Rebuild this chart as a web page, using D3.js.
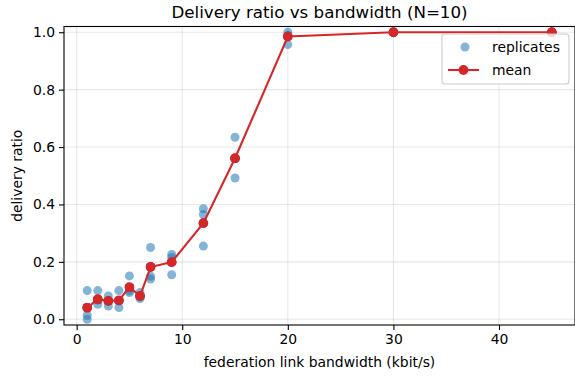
<!DOCTYPE html>
<html>
<head>
<meta charset="utf-8">
<script src="https://cdn.jsdelivr.net/npm/d3@7"></script>
<style>
  body { margin: 0; background: #fff; }
  svg text { font-family: "DejaVu Sans", sans-serif; fill: #000; }
</style>
</head>
<body>
<div id="chart"></div>
<script>
// data
var bandwidths = [1, 2, 3, 4, 5, 6, 7, 9, 12, 15, 20, 30, 45];

var replicates = [
    [0.10, 0.0, 0.014, 0.041, 0.041, 0.041, 0.041, 0.041, 0.041, 0.041],
    [0.10, 0.052, 0.068, 0.068, 0.069, 0.068, 0.069, 0.068, 0.069, 0.069],
    [0.081, 0.046, 0.064, 0.064, 0.064, 0.064, 0.064, 0.064, 0.064, 0.065],
    [0.10, 0.041, 0.065, 0.065, 0.065, 0.065, 0.065, 0.065, 0.065, 0.064],
    [0.151, 0.093, 0.099, 0.111, 0.111, 0.111, 0.111, 0.111, 0.111, 0.111],
    [0.093, 0.072, 0.081, 0.081, 0.081, 0.081, 0.081, 0.081, 0.081, 0.078],
    [0.25, 0.15, 0.14, 0.183, 0.183, 0.183, 0.183, 0.183, 0.183, 0.183],
    [0.226, 0.215, 0.155, 0.199, 0.199, 0.199, 0.199, 0.199, 0.199, 0.199],
    [0.385, 0.365, 0.255, 0.335, 0.335, 0.335, 0.335, 0.335, 0.335, 0.335],
    [0.634, 0.492, 0.56, 0.56, 0.561, 0.561, 0.56, 0.561, 0.56, 0.561],
    [1.0, 0.957, 0.987, 0.987, 0.986, 0.987, 0.986, 0.987, 0.986, 0.987],
    [1.0, 1.0, 1.0, 1.0, 1.0, 1.0, 1.0, 1.0, 1.0, 1.0],
    [1.0, 1.0, 1.0, 1.0, 1.0, 1.0, 1.0, 1.0, 1.0, 1.0]
];

var meanRatio = [0.04, 0.07, 0.064, 0.066, 0.112, 0.081, 0.182, 0.199, 0.335, 0.561, 0.985, 1.0, 1.0];

var xTicks = [0, 10, 20, 30, 40];
var yTicks = [0.0, 0.2, 0.4, 0.6, 0.8, 1.0];

const width = 575, height = 379;
const margin = {left: 64, right: 0, top: 26.5, bottom: 54};

const svg = d3.select("#chart")
    .append("svg")
    .attr("width", width)
    .attr("height", height);

var x = d3.scaleLinear()
    .domain([-1.2, 47.2])
    .range([margin.left, width - margin.right]);

var y = d3.scaleLinear()
    .domain([-0.02, 1.02])
    .range([height - margin.bottom, margin.top]);

//grid
var grid = svg.append("g").attr("class", "grid");
grid.selectAll("line.gx")
    .data(xTicks)
    .enter()
    .append("line")
    .attr("x1", d => x(d)).attr("x2", d => x(d))
    .attr("y1", y.range()[0]).attr("y2", y.range()[1])
    .style("stroke", "#b0b0b0").style("stroke-opacity", 0.3).style("stroke-width", 1.1);
grid.selectAll("line.gy")
    .data(yTicks)
    .enter()
    .append("line")
    .attr("x1", x.range()[0]).attr("x2", x.range()[1])
    .attr("y1", d => y(d)).attr("y2", d => y(d))
    .style("stroke", "#b0b0b0").style("stroke-opacity", 0.3).style("stroke-width", 1.1);

//replicate points
var points = [];
bandwidths.forEach(function (b, i) {
    replicates[i].forEach(function (v) { points.push({bw: b, v: v}); });
});

svg.append("g")
    .selectAll("circle")
    .data(points)
    .enter()
    .append("circle")
    .attr("cx", d => x(d.bw))
    .attr("cy", d => y(d.v))
    .attr("r", 4.5)
    .style("fill", "#1f77b4")
    .style("fill-opacity", 0.55);

//mean line
var meanData = bandwidths.map((b, i) => ({bw: b, v: meanRatio[i]}));

svg.append("path")
    .datum(meanData)
    .attr("d", d3.line().x(d => x(d.bw)).y(d => y(d.v)))
    .style("fill", "none")
    .style("stroke", "#d62728")
    .style("stroke-width", 2.1);

svg.append("g")
    .selectAll("circle")
    .data(meanData)
    .enter()
    .append("circle")
    .attr("cx", d => x(d.bw))
    .attr("cy", d => y(d.v))
    .attr("r", 4.9)
    .style("fill", "#d62728");

//axes
var xAxis = svg.append("g")
    .attr("transform", "translate(0," + y.range()[0] + ")")
    .call(d3.axisBottom(x).tickValues(xTicks).tickFormat(d3.format("d")).tickSize(5).tickPadding(4));
var yAxis = svg.append("g")
    .attr("transform", "translate(" + x.range()[0] + ",0)")
    .call(d3.axisLeft(y).tickValues(yTicks).tickFormat(d3.format(".1f")).tickSize(5).tickPadding(4));

[xAxis, yAxis].forEach(function (a) {
    a.select(".domain").remove();
    a.selectAll("line").style("stroke", "#000").style("stroke-width", 1.1);
    a.selectAll("text")
        .style("font-family", "DejaVu Sans")
        .style("font-size", "13.9px")
        .style("fill", "#000");
});

//frame
svg.append("rect")
    .attr("x", x.range()[0])
    .attr("y", y.range()[1])
    .attr("width", x.range()[1] - x.range()[0])
    .attr("height", y.range()[0] - y.range()[1])
    .style("fill", "none")
    .style("stroke", "#000")
    .style("stroke-width", 1.1);

//labels
svg.append("text")
    .attr("x", (x.range()[0] + x.range()[1]) / 2)
    .attr("y", 18)
    .attr("text-anchor", "middle")
    .style("font-size", "16.7px")
    .text("Delivery ratio vs bandwidth (N=10)");

svg.append("text")
    .attr("x", (x.range()[0] + x.range()[1]) / 2)
    .attr("y", 367)
    .attr("text-anchor", "middle")
    .style("font-size", "13.9px")
    .text("federation link bandwidth (kbit/s)");

svg.append("text")
    .attr("transform", "translate(22," + (y(0) + y(1)) / 2 + ") rotate(-90)")
    .attr("text-anchor", "middle")
    .style("font-size", "13.9px")
    .text("delivery ratio");

//legend
var legend = svg.append("g").attr("transform", "translate(442,34)");
legend.append("rect")
    .attr("width", 127)
    .attr("height", 50)
    .attr("rx", 3)
    .style("fill", "#fff")
    .style("fill-opacity", 0.8)
    .style("stroke", "#cccccc")
    .style("stroke-width", 1.1);
legend.append("circle")
    .attr("cx", 23).attr("cy", 13).attr("r", 4.5)
    .style("fill", "#1f77b4").style("fill-opacity", 0.55);
legend.append("text")
    .attr("x", 50).attr("y", 18)
    .style("font-size", "13.9px")
    .text("replicates");
legend.append("line")
    .attr("x1", 6).attr("x2", 37).attr("y1", 36).attr("y2", 36)
    .style("stroke", "#d62728").style("stroke-width", 2.1);
legend.append("circle")
    .attr("cx", 21.5).attr("cy", 36).attr("r", 4.9)
    .style("fill", "#d62728");
legend.append("text")
    .attr("x", 50).attr("y", 41)
    .style("font-size", "13.9px")
    .text("mean");
</script>
</body>
</html>
